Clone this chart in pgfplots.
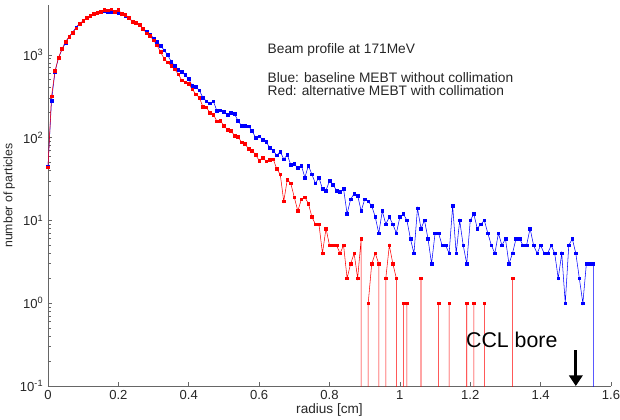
\documentclass[border=0pt]{standalone}
\usepackage{fontspec}
\setmainfont{Liberation Sans}
\usepackage{pgfplots}
\pgfplotsset{compat=1.18}
\usetikzlibrary{arrows.meta}
\begin{document}
\begin{tikzpicture}
\begin{axis}[
  scale only axis,
  width=422.25pt, height=285.75pt,
  xmin=0, xmax=1.6, ymode=log, ymin=0.1, ymax=4000,
  axis x line=bottom, axis y line=left,
  axis line style={-, draw=black!60, line width=0.6pt},
  every tick/.style={draw=black!60, line width=0.5pt},
  tick align=inside,
  major tick length=3.2pt, minor tick length=2pt,
  xtick={0,0.2,0.4,0.6,0.8,1,1.2,1.4,1.6},
  xticklabels={0,0.2,0.4,0.6,0.8,1,1.2,1.4,1.6},
  ytick={0.1,1,10,100,1000},
  yticklabels={10\textsuperscript{-1},10\textsuperscript{0},10\textsuperscript{1},10\textsuperscript{2},10\textsuperscript{3}},
  tick label style={font=\fontsize{9.8}{11}\selectfont, text=black!85},
  xlabel style={font=\fontsize{10.2}{11}\selectfont, text=black!85, yshift=4pt},
  ylabel style={font=\fontsize{9.2}{11}\selectfont, text=black!85, yshift=-3pt},
  xlabel={radius [cm]}, ylabel={number of particles},
  clip=true,
]
\addplot[blue, line width=0.4pt, mark=square*, mark size=1pt, mark options={solid, fill=blue}] coordinates {
(0,45) (0.01,280) (0.02,630) (0.03,920) (0.04,1170) (0.05,1390) (0.06,1660) (0.07,1880) (0.08,2150) (0.09,2400)
(0.10,2560) (0.11,2810) (0.12,2960) (0.13,3150) (0.14,3240) (0.15,3300) (0.16,3380) (0.17,3300) (0.18,3300) (0.19,3280)
(0.20,3220) (0.21,3080) (0.22,2960) (0.23,2800) (0.24,2520) (0.25,2430) (0.26,2290) (0.27,2090) (0.28,1900) (0.29,1780)
(0.30,1590) (0.31,1440) (0.32,1290) (0.33,1140) (0.34,1000) (0.35,830) (0.36,740) (0.37,660) (0.38,625) (0.39,570)
(0.40,510) (0.41,420) (0.42,410) (0.43,375) (0.44,305) (0.45,275) (0.46,260) (0.47,275) (0.48,211) (0.49,215)
(0.50,205) (0.51,190) (0.52,200) (0.53,193) (0.54,160) (0.55,139) (0.56,138) (0.57,137) (0.58,121) (0.59,100)
(0.60,104) (0.61,95) (0.62,89) (0.63,76) (0.64,70) (0.65,61) (0.66,68) (0.67,55) (0.68,62) (0.69,47)
(0.70,48) (0.71,43) (0.72,46) (0.73,33) (0.74,46) (0.75,36) (0.76,28) (0.77,33) (0.78,24) (0.79,23)
(0.80,30) (0.81,27) (0.82,23) (0.83,22) (0.84,24) (0.85,12) (0.86,18) (0.87,21) (0.88,20) (0.89,13)
(0.90,18) (0.91,17) (0.92,15) (0.93,11) (0.94,7) (0.95,13) (0.96,9) (0.97,11) (0.98,9) (0.99,7)
(1.00,11) (1.01,12) (1.02,10) (1.03,6) (1.04,4) (1.05,14) (1.06,8) (1.07,10) (1.08,6) (1.09,3)
(1.10,7) (1.11,7) (1.12,5) (1.13,5) (1.14,4) (1.15,15) (1.16,4) (1.17,10) (1.18,5) (1.19,3)
(1.20,10) (1.21,12) (1.22,8) (1.23,9) (1.24,10) (1.25,7) (1.26,5) (1.27,4) (1.28,7) (1.29,5)
(1.30,6) (1.31,3) (1.32,4) (1.33,6) (1.34,6) (1.35,5) (1.36,5) (1.37,8) (1.38,5) (1.39,4)
(1.40,5) (1.41,4) (1.42,4) (1.43,5) (1.44,4) (1.45,2) (1.46,4) (1.47,1) (1.48,5) (1.49,6)
(1.50,4) (1.51,2) (1.52,1) (1.53,3) (1.54,3) (1.55,3) (1.55,0.001)
};
\addplot[red, line width=0.4pt, mark=square*, mark size=1pt, mark options={solid, fill=red}] coordinates {
(0,44) (0.01,315) (0.02,640) (0.03,930) (0.04,1180) (0.05,1450) (0.06,1660) (0.07,1840) (0.08,2100) (0.09,2380)
(0.10,2560) (0.11,2810) (0.12,2960) (0.13,3150) (0.14,3240) (0.15,3320) (0.16,3480) (0.17,3450) (0.18,3550) (0.19,3330)
(0.20,3480) (0.21,3120) (0.22,3040) (0.23,2820) (0.24,2500) (0.25,2420) (0.26,2290) (0.27,2080) (0.28,1820) (0.29,1690)
(0.30,1500) (0.31,1300) (0.32,1080) (0.33,900) (0.34,810) (0.35,740) (0.36,670) (0.37,585) (0.38,495) (0.39,465)
(0.40,445) (0.41,385) (0.42,335) (0.43,305) (0.44,237) (0.45,232) (0.46,200) (0.47,190) (0.48,158) (0.49,160)
(0.50,139) (0.51,125) (0.52,121) (0.53,106) (0.54,103) (0.55,88) (0.56,84) (0.57,73) (0.58,70) (0.59,62)
(0.60,53) (0.61,57) (0.62,52) (0.63,54) (0.64,55) (0.65,42) (0.66,36) (0.67,17) (0.68,31) (0.69,28)
(0.70,19) (0.71,13) (0.72,18) (0.73,19) (0.74,16) (0.75,11) (0.76,9) (0.77,9) (0.78,4) (0.79,8)
(0.80,5) (0.81,5) (0.82,5) (0.83,4) (0.84,5) (0.85,2) (0.86,3) (0.87,4) (0.88,2) (0.89,6)
(0.89,0.001) (0.91,0.001)
(0.91,1) (0.92,3) (0.93,4) (0.94,3) (0.94,0.001) (0.96,0.001)
(0.96,2) (0.97,5) (0.98,3) (0.99,2) (0.99,0.001) (1.01,0.001)
(1.01,1) (1.02,1) (1.02,0.001) (1.06,0.001)
(1.06,2) (1.06,0.001) (1.11,0.001)
(1.11,1) (1.11,0.001) (1.14,0.001)
(1.14,1) (1.14,0.001) (1.19,0.001)
(1.19,1) (1.19,0.001) (1.21,0.001)
(1.21,1) (1.21,0.001) (1.24,0.001)
(1.24,1) (1.24,0.001) (1.32,0.001)
(1.32,2) (1.32,0.001)
};
\node[anchor=west, font=\fontsize{10.3}{12}\selectfont, text=black!85] at (axis cs:0.611,1150) {Beam profile at 171MeV};
\node[anchor=west, font=\fontsize{10.3}{12}\selectfont, text=black!85] at (axis cs:0.611,526) {Blue: baseline MEBT without collimation};
\node[anchor=west, font=\fontsize{10.3}{12}\selectfont, text=black!85] at (axis cs:0.611,368) {Red: alternative MEBT with collimation};
\node[font=\fontsize{16}{18}\selectfont] at (axis cs:1.318,0.36) {CCL bore};
\draw[-{Triangle[length=8pt,width=10pt]}, line width=2pt] (axis cs:1.5,0.27) -- (axis cs:1.5,0.1);
\end{axis}
\pgfresetboundingbox
\path[use as bounding box] ([shift={(-36pt,-24.75pt)}]current axis.south west) rectangle ([shift={(6.75pt,3.75pt)}]current axis.north east);
\end{tikzpicture}
\end{document}
